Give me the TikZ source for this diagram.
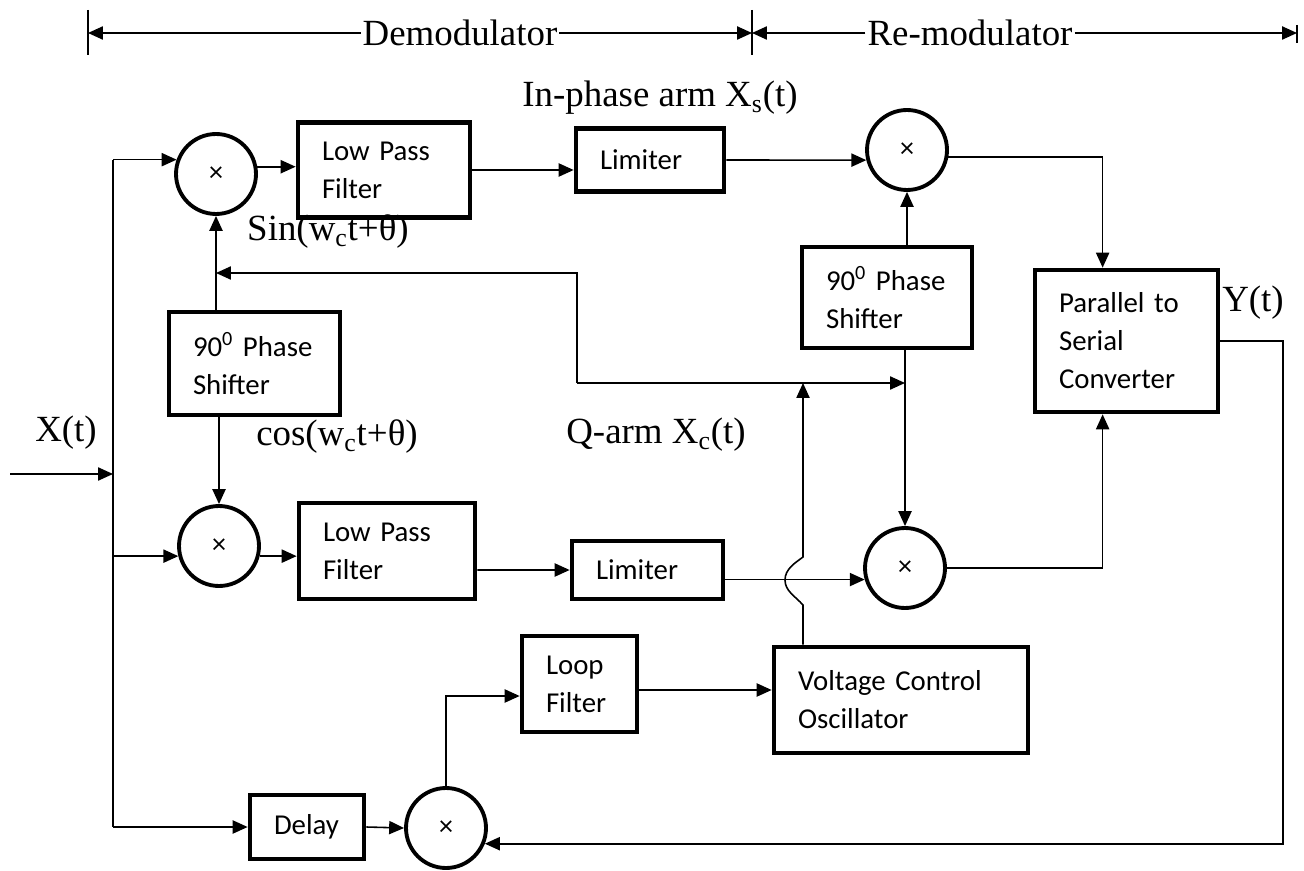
\documentclass[tikz,border=0pt]{standalone}
\usepackage{fontspec}
\setmainfont{Liberation Serif}
\newfontfamily\boxfont{Carlito}
\usepackage{tikz}
\usetikzlibrary{arrows.meta,positioning}

\begin{document}
\begin{tikzpicture}[x=0.02cm, y=-0.02cm,
  lbl/.style={font=\fontsize{21}{25}\selectfont, inner sep=1pt},
  blk/.style={draw, line width=2.7pt, align=left, inner xsep=0.48cm, inner ysep=0pt,
    font=\boxfont\fontsize{16.4}{21.6}\selectfont},
  mul/.style={draw, circle, line width=2.2pt, minimum size=1.6cm, inner sep=0pt,
    font=\boxfont\fontsize{16}{18}\selectfont},
  arr/.style={-{Triangle[length=8.5pt,width=7.5pt]}, line width=0.9pt},
  wire/.style={line width=0.9pt}]
\useasboundingbox (0,0) rectangle (1304,871);

% Multipliers
\node[mul] (mul1) at (216,174) {×};
\node[mul] (mul2) at (219,546) {×};
\node[mul] (mul3) at (907,150) {×};
\node[mul] (mul4) at (905,568) {×};
\node[mul] (mul5) at (446,828) {×};

% Blocks, in-phase arm
\node[blk, text width=2.48cm, minimum height=1.9cm] (lpf1) at (384,170) {Low Pass\\Filter};
\node[blk, text width=2.0cm, minimum height=1.26cm] (lim1) at (650,160) {Limiter};
\node[blk, text width=2.46cm, minimum height=2.06cm] (ps1) at (254.5,363.5) {90\textsuperscript{0} Phase\\Shifter};
\node[blk, text width=2.44cm, minimum height=2.02cm] (ps2) at (887,297.5) {90\textsuperscript{0} Phase\\Shifter};
\node[blk, text width=2.70cm, minimum height=2.84cm] (ps) at (1126.5,341) {Parallel to\\Serial\\Converter};

% Blocks, Q-arm and loop
\node[blk, text width=2.56cm, minimum height=1.92cm] (lpf2) at (387,551) {Low Pass\\Filter};
\node[blk, text width=2.06cm, minimum height=1.16cm] (lim2) at (647.5,570) {Limiter};
\node[blk, text width=1.34cm, minimum height=1.92cm] (loop) at (579.5,684) {Loop\\Filter};
\node[blk, text width=4.12cm, minimum height=2.12cm] (vco) at (901,700) {Voltage Control\\Oscillator};
\node[blk, text width=1.32cm, minimum height=1.28cm] (delay) at (307,827) {Delay};

% Labels
\node[lbl] (inlbl) at (660,98) {In-phase arm X\textsubscript{s}(t)};
\node[lbl] (sinlbl) at (328,232) {Sin(w\textsubscript{c}t+θ)};
\node[lbl] (coslbl) at (337,437) {cos(w\textsubscript{c}t+θ)};
\node[lbl] (qlbl) at (656,435) {Q-arm X\textsubscript{c}(t)};
\node[lbl] (xlbl) at (66,433) {X(t)};
\node[lbl] (ylbl) at (1253,303) {Y(t)};
\node[lbl] (demod) at (460,33) {Demodulator};
\node[lbl] (remod) at (970,33) {Re-modulator};

% Dimension lines on top
\coordinate (dL) at (88,33);
\coordinate (dM) at (752,33);
\coordinate (dR) at (1297,33);
\draw[wire] (dL) ++(0,-23) -- ++(0,45);
\draw[wire] (dM) ++(0,-23) -- ++(0,45);
\draw[wire] (dR) ++(0,-8) -- ++(0,18);
\draw[arr] (demod.west) -- (dL);
\draw[arr] (demod.east) -- (dM);
\draw[arr] (remod.west) -- (dM);
\draw[arr] (remod.east) -- (dR);

% Input bus
\coordinate (xin) at (10,474);
\coordinate (busbot) at (113,827);
\draw[wire] (mul1.160 -| busbot) -- (busbot);
\draw[arr] (xin) -- (xin -| busbot);
\draw[arr] (mul1.160 -| busbot) -- (mul1.160);
\draw[arr] (mul2.194 -| busbot) -- (mul2.194);
\draw[arr] (busbot) -- (delay.west);

% In-phase arm left to right
\draw[arr] (mul1.10) -- (mul1.10 -| lpf1.west);
\draw[arr] (lpf1.east) -- (lpf1.east -| lim1.west);
\draw[arr] (lim1.east) -- (mul3.194);
\draw[arr] (mul3.-10) -| ([xshift=1.4cm]ps.north west);

% Q-arm left to right
\draw[arr] (mul2.-14) -- (mul2.-14 -| lpf2.west);
\draw[arr] ([yshift=-0.38cm]lpf2.east) -- (lim2.west);
\draw[arr] (mul4.196 -| lim2.east) -- (mul4.196);
\draw[arr] (mul4.east) -| ([xshift=1.4cm]ps.south west);

% Phase shifters
\draw[arr] (ps1.north -| mul1) -- (mul1.south);
\draw[arr] (ps1.south -| mul2) -- (mul2.north);
\draw[arr] (ps2.north -| mul3) -- (mul3.south);
\draw[arr] (ps2.south -| mul4) -- (mul4.north);

% Carrier from the VCO
\coordinate (fbL) at (577,383);
\coordinate (fbT) at (577,273);
\draw[arr] (fbL) -- (fbL -| mul4);
\draw[arr] (fbL) -- (fbT) -- (fbT -| mul1);
\coordinate (hop) at (803,580);
\coordinate (hopB) at (803,605);
\coordinate (hopM) at (785,580);
\coordinate (hopT) at (803,557);
\draw[arr] (hop |- vco.north) -- (hopB) .. controls (795,596) and (785,591) .. (hopM)
  .. controls (785,569) and (795,563) .. (hopT) -- (hop |- fbL);

% Loop
\draw[arr] (delay.east) -- (mul5.west);
\draw[arr] (mul5.north) |- ([yshift=-0.24cm]loop.west);
\draw[arr] ([yshift=-0.12cm]loop.east) -- ([yshift=-0.12cm]loop.east -| vco.west);
\coordinate (yret) at (1283,845);
\draw[arr] (ps.east) -| (mul5.-22 -| yret) -- (mul5.-22);
\end{tikzpicture}
\end{document}
